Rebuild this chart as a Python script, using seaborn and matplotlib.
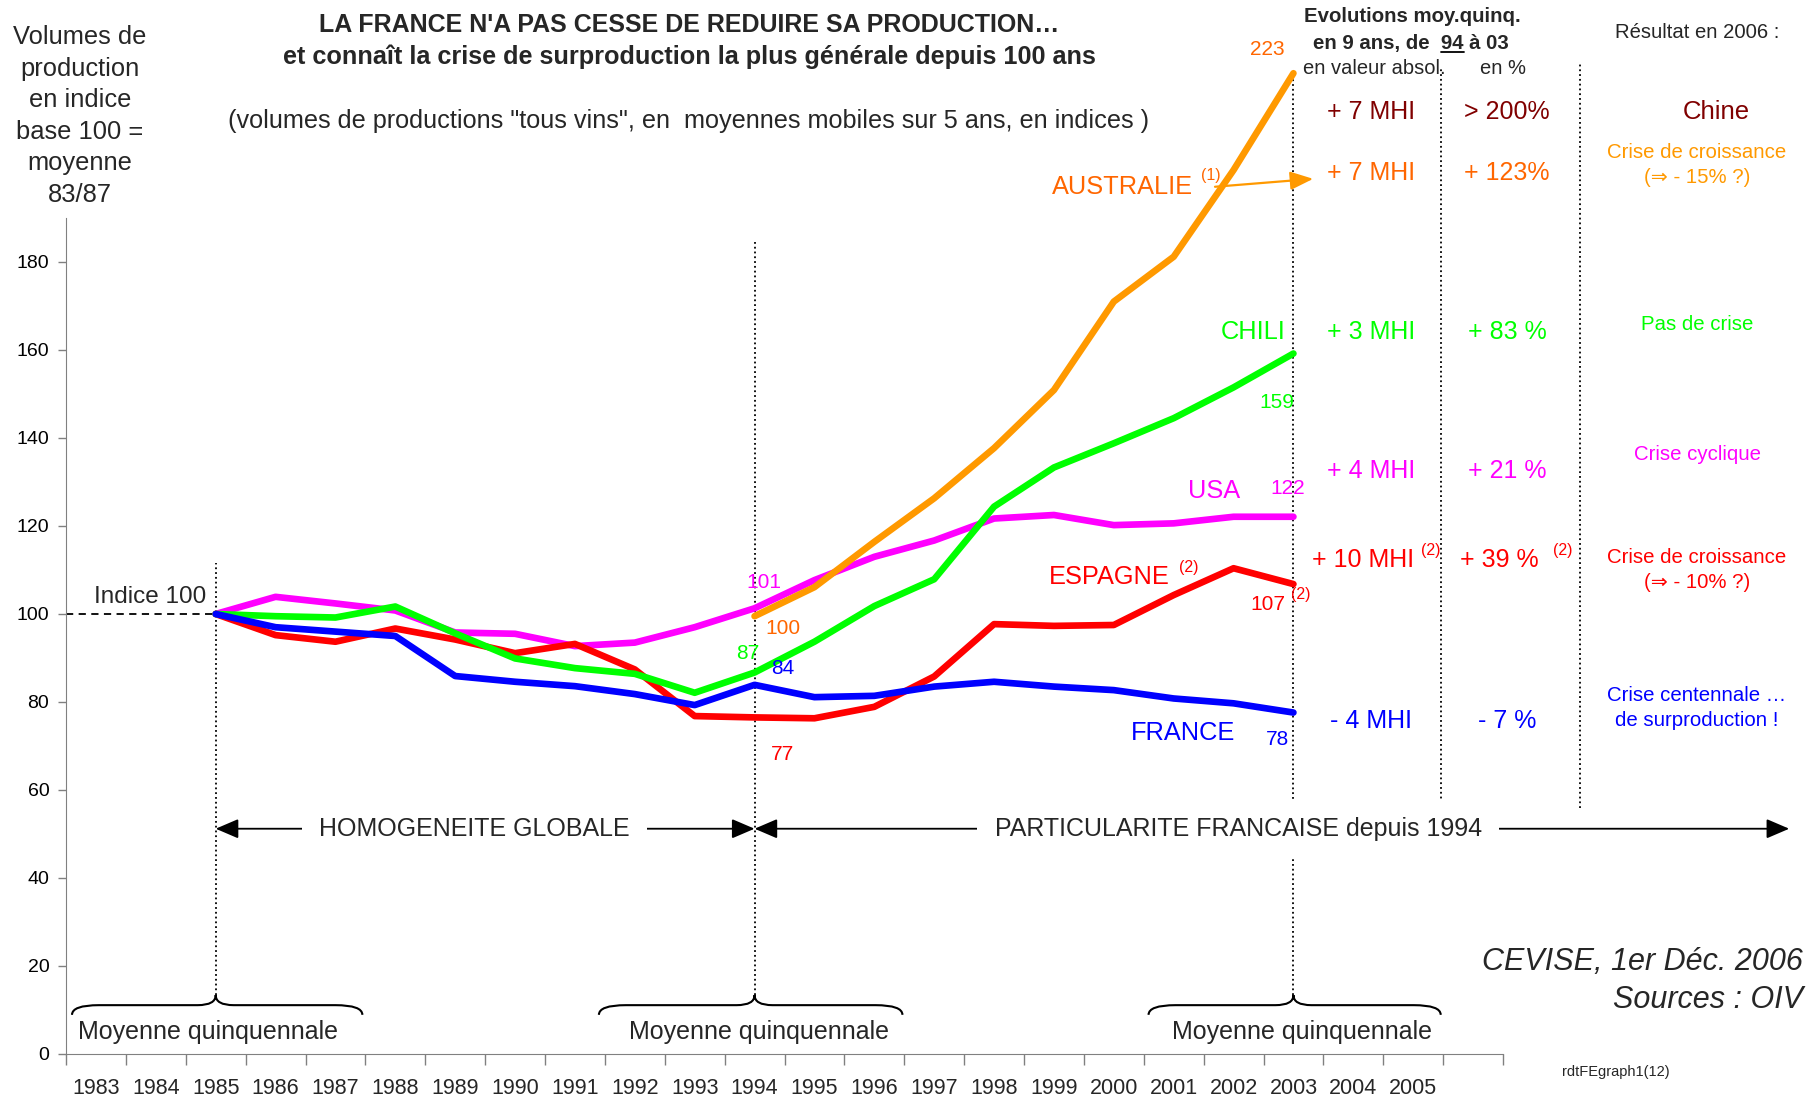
import seaborn as sns
import matplotlib.pyplot as plt
import pandas as pd
import numpy as np
from matplotlib.path import Path
from matplotlib.patches import PathPatch
from matplotlib.lines import Line2D

# --- data (indices, moyennes mobiles sur 5 ans, base 100 = moyenne 83/87) ---
slots = list(range(1983, 2007))                       # last slot (2006) stays blank
slot_labels = [str(y) for y in range(1983, 2006)] + ['']

years = list(range(1985, 2004))
france = [100, 97.0, 96.0, 95.0, 85.9, 84.6, 83.6, 81.8, 79.3, 83.9,
          81.1, 81.4, 83.5, 84.6, 83.5, 82.7, 80.8, 79.7, 77.6]
espagne = [100, 95.2, 93.7, 96.7, 94.2, 91.1, 93.2, 87.4, 76.8, 76.5,
           76.3, 78.9, 85.8, 97.7, 97.3, 97.5, 104.3, 110.4, 106.8]
chili = [100, 99.5, 99.2, 101.7, 95.6, 89.9, 87.7, 86.4, 82.1, 86.7,
         93.7, 101.8, 107.9, 124.4, 133.3, 138.8, 144.5, 151.5, 159.2]
usa = [100, 103.9, 102.4, 100.8, 95.8, 95.5, 92.7, 93.5, 97.0, 101.3,
       107.7, 113.0, 116.7, 121.7, 122.5, 120.2, 120.6, 122.1, 122.1]
years_aus = list(range(1994, 2004))
australie = [99.5, 106.1, 116.4, 126.3, 137.7, 150.9, 171.0, 181.2, 200.9, 222.9]

order = ['USA', 'ESPAGNE', 'AUSTRALIE', 'CHILI', 'FRANCE']
colors = {'USA': '#FF00FF', 'ESPAGNE': '#FF0000', 'AUSTRALIE': '#FF9900',
          'CHILI': '#00FF00', 'FRANCE': '#0000FF'}
ORANGE_TXT = '#FF6600'
DARKRED = '#800000'

frames = []
for name, xs, vals in [('USA', years, usa), ('ESPAGNE', years, espagne),
                       ('AUSTRALIE', years_aus, australie), ('CHILI', years, chili),
                       ('FRANCE', years, france)]:
    frames.append(pd.DataFrame({'annee': xs, 'indice': vals, 'pays': name}))
df = pd.concat(frames, ignore_index=True)

sns.set_style('white')
plt.rcParams['font.family'] = ['Liberation Sans', 'DejaVu Sans']

W, H = 1810, 1097
fig = plt.figure(figsize=(W / 100, H / 100), dpi=100)
ax = fig.add_axes([66 / W, 43 / H, (1503 - 66) / W, (1054 - 20) / H])

sns.lineplot(data=df, x='annee', y='indice', hue='pays', hue_order=order,
             palette=colors, linewidth=4.8, legend=False, ax=ax,
             solid_capstyle='round', solid_joinstyle='round')

ax.set_xlim(1982.5, 2006.5)
ax.set_ylim(0, 235)
ax.set_xlabel('')
ax.set_ylabel('')

ax.set_yticks(range(0, 181, 20))
ax.set_xticks(slots)
ax.set_xticklabels(slot_labels)
ax.set_xticks(np.arange(1982.5, 2007, 1), minor=True)
ax.tick_params(axis='y', left=True, length=6, width=1, color='#808080',
               labelsize=14, pad=6, labelcolor='black')
ax.tick_params(axis='x', which='major', bottom=True, length=0, pad=17,
               labelsize=15.5)
ax.tick_params(axis='x', which='minor', bottom=True, length=8, width=1,
               color='#808080', direction='out')
for s in ['top', 'right']:
    ax.spines[s].set_visible(False)
ax.spines['left'].set_bounds(0, 190)
ax.spines['left'].set_color('#808080')
ax.spines['bottom'].set_color('#808080')
ax.grid(False)

# reference lines
ax.plot([1982.5, 1985], [100, 100], ls=(0, (4, 3)), color='black', lw=1.3, zorder=1)
ax.vlines(1985, 13.4, 111.5, colors='black', linestyles=':', lw=1.3, zorder=1)
ax.vlines(1994, 13.4, 184.5, colors='black', linestyles=':', lw=1.3, zorder=1)
ax.vlines(2003, 13.4, 223.4, colors='black', linestyles=':', lw=1.3, zorder=1)
ax.vlines([2005.47, 2007.79], 55.9, [223.9, 225.2], colors='black',
          linestyles=':', lw=1.3, zorder=1, clip_on=False)


def brace(x0, xc, x1, y_end=8.9, y_mid=11.1, y_peak=13.4, d=0.45, dc=0.3):
    verts = [(x0, y_end), (x0, y_mid), (x0 + d, y_mid),
             (xc - dc, y_mid), (xc, y_mid), (xc, y_peak),
             (xc, y_mid), (xc + dc, y_mid),
             (x1 - d, y_mid), (x1, y_mid), (x1, y_end)]
    codes = [Path.MOVETO, Path.CURVE3, Path.CURVE3, Path.LINETO, Path.CURVE3,
             Path.CURVE3, Path.CURVE3, Path.CURVE3, Path.LINETO, Path.CURVE3,
             Path.CURVE3]
    ax.add_patch(PathPatch(Path(verts, codes), fill=False, lw=1.5,
                           ec='black', clip_on=False))


brace(1982.6, 1985, 1987.45)
brace(1991.4, 1994, 1996.47)
brace(2000.58, 2003, 2005.46)
for xc in [1984.87, 1994.08, 2003.14]:
    ax.text(xc, 5.0, 'Moyenne quinquennale', ha='center', va='center', fontsize=18)

# period arrows
arr = dict(arrowstyle='<|-|>,head_length=0.7,head_width=0.3', color='black',
           lw=1.3, mutation_scale=20, shrinkA=0, shrinkB=0)
ax.annotate('', xy=(1985, 51.2), xytext=(1994, 51.2), arrowprops=arr)
ax.annotate('', xy=(1994, 51.2), xytext=(2011.28, 51.2), arrowprops=arr,
            annotation_clip=False)
box = dict(boxstyle='square,pad=0.7', fc='white', ec='none')
ax.text(1989.32, 51.2, 'HOMOGENEITE GLOBALE', ha='center', va='center',
        fontsize=18, bbox=box, zorder=4)
ax.text(2002.08, 51.2, 'PARTICULARITE FRANCAISE depuis 1994', ha='center',
        va='center', fontsize=18, bbox=box, zorder=4)

# series labels
ax.text(1983.9, 103.9, 'Indice 100', ha='center', va='center', fontsize=17.5)
ax.text(2000.15, 197.0, 'AUSTRALIE', ha='center', va='center', fontsize=18.3, color=ORANGE_TXT)
ax.text(2001.62, 199.6, '(1)', ha='center', va='center', fontsize=11.5, color=ORANGE_TXT)
ax.annotate('', xy=(2003.33, 198.9), xytext=(2001.69, 197.1),
            arrowprops=dict(arrowstyle='-|>,head_length=0.7,head_width=0.28',
                            color='#FF9900', lw=1.6, mutation_scale=20,
                            shrinkA=0, shrinkB=0))
ax.text(2002.57, 228.3, '223', ha='center', va='center', fontsize=15, color=ORANGE_TXT)
ax.text(1994.47, 96.8, '100', ha='center', va='center', fontsize=15, color=ORANGE_TXT)
ax.text(2002.32, 164.0, 'CHILI', ha='center', va='center', fontsize=18.3, color='#00FF00')
ax.text(2002.72, 148.0, '159', ha='center', va='center', fontsize=15, color='#00FF00')
ax.text(1993.89, 91.1, '87', ha='center', va='center', fontsize=15, color='#00FF00')
ax.text(2001.68, 128.0, 'USA', ha='center', va='center', fontsize=18.3, color='#FF00FF')
ax.text(2002.91, 128.6, '122', ha='center', va='center', fontsize=15, color='#FF00FF')
ax.text(1994.16, 107.1, '101', ha='center', va='center', fontsize=15, color='#FF00FF')
ax.text(1999.93, 108.4, 'ESPAGNE', ha='center', va='center', fontsize=18.3, color='#FF0000')
ax.text(2001.25, 110.5, '(2)', ha='center', va='center', fontsize=11.5, color='#FF0000')
ax.text(2002.57, 102.1, '107', ha='center', va='center', fontsize=15, color='#FF0000')
ax.text(2003.13, 104.4, '(2)', ha='center', va='center', fontsize=11.5, color='#FF0000')
ax.text(1994.47, 68.0, '77', ha='center', va='center', fontsize=15, color='#FF0000')
ax.text(1994.47, 87.7, '84', ha='center', va='center', fontsize=15, color='#0000FF')
ax.text(2001.16, 73.0, 'FRANCE', ha='center', va='center', fontsize=18.3, color='#0000FF')
ax.text(2002.74, 71.4, '78', ha='center', va='center', fontsize=15, color='#0000FF')


def ftext(x, y, s, **kw):
    kw.setdefault('ha', 'center')
    kw.setdefault('va', 'center')
    return fig.text(x / W, 1 - y / H, s, **kw)


# titles
ftext(80, 116, 'Volumes de\nproduction\nen indice\nbase 100 =\nmoyenne\n83/87',
      fontsize=18.4, linespacing=1.4)
ftext(689, 25, "LA FRANCE N'A PAS CESSE DE REDUIRE SA PRODUCTION\u2026",
      fontsize=18, weight='bold')
ftext(689, 57, 'et connaît la crise de surproduction la plus générale depuis 100 ans',
      fontsize=18.2, weight='bold')
ftext(689, 121, '(volumes de productions "tous vins", en  moyennes mobiles sur 5 ans, en indices )',
      fontsize=18.2)

# right-hand table
ftext(1412, 17, 'Evolutions moy.quinq.', fontsize=14.7, weight='bold')
t94 = ftext(1411, 44, 'en 9 ans, de  94 à 03', fontsize=14.7, weight='bold')
ftext(1374, 69, 'en valeur absol.', fontsize=14.5)
ftext(1503, 69, 'en %', fontsize=14.5)
ftext(1697, 32, 'Résultat en 2006 :', fontsize=14.6)

c1, c2, c3 = 1371, 1507, 1697
rows = [(112, '+ 7 MHI', '> 200%', DARKRED),
        (173, '+ 7 MHI', '+ 123%', ORANGE_TXT),
        (332, '+ 3 MHI', '+ 83 %', '#00FF00'),
        (471, '+ 4 MHI', '+ 21 %', '#FF00FF'),
        (560, '+ 10 MHI', '+ 39 %', '#FF0000'),
        (721, '- 4 MHI', '- 7 %', '#0000FF')]
for y, a, b, col in rows:
    ftext(c1 - (8 if a == '+ 10 MHI' else 0), y, a, fontsize=18, color=col)
    ftext(c2 - (8 if b == '+ 39 %' else 0), y, b, fontsize=18, color=col)
ftext(1431, 551, '(2)', fontsize=11.5, color='#FF0000')
ftext(1563, 551, '(2)', fontsize=11.5, color='#FF0000')

ftext(1716, 112, 'Chine', fontsize=18.5, color=DARKRED)
ftext(c3, 165, 'Crise de croissance\n(\u21d2 - 15% ?)', fontsize=14.7, color='#FF9900', linespacing=1.4)
ftext(c3, 324, 'Pas de crise', fontsize=14.7, color='#00FF00')
ftext(c3, 454, 'Crise cyclique', fontsize=14.7, color='#FF00FF')
ftext(c3, 570, 'Crise de croissance\n(\u21d2 - 10% ?)', fontsize=14.7, color='#FF0000', linespacing=1.4)
ftext(c3, 708, 'Crise centennale \u2026\nde surproduction !', fontsize=14.7, color='#0000FF', linespacing=1.4)

ftext(1803, 962, 'CEVISE, 1er Déc. 2006', fontsize=22, style='italic', ha='right')
ftext(1803, 1000, 'Sources : OIV', fontsize=22, style='italic', ha='right')
ftext(1616, 1072, 'rdtFEgraph1(12)', fontsize=10.5)

# underline "94"
fig.canvas.draw()
r = fig.canvas.get_renderer()
bb = t94.get_window_extent(r)


def width_of(s):
    tmp = fig.text(0, 0, s, fontsize=14.7, weight='bold')
    w = tmp.get_window_extent(r).width
    tmp.remove()
    return w


x_end = bb.x0 + width_of('en 9 ans, de  94')
x_start = x_end - width_of('94')
y_line = bb.y0 + 2
inv = fig.transFigure.inverted()
(fx0, fy), (fx1, _) = inv.transform([(x_start, y_line), (x_end, y_line)])
fig.add_artist(Line2D([fx0, fx1], [fy, fy], color='black', lw=1.3))

fig.savefig('out.png', dpi=100)
